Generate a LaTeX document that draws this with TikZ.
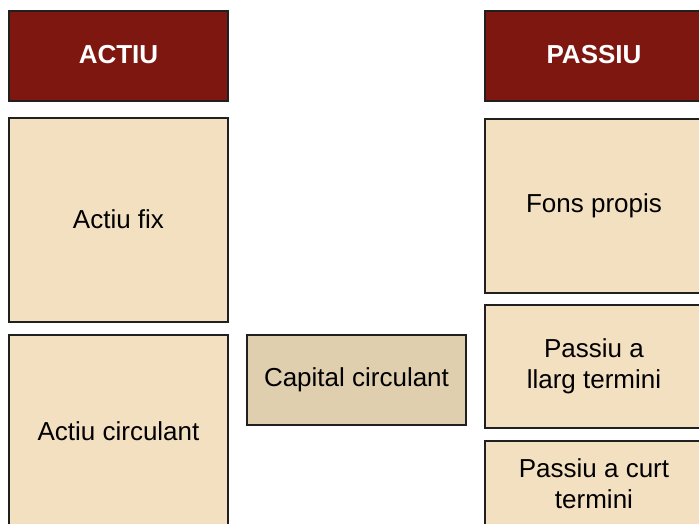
\documentclass[tikz,border=0pt]{standalone}
\usepackage{fontspec}
\setmainfont{Liberation Sans}
\definecolor{hdr}{HTML}{7F1711}
\definecolor{beige}{HTML}{F3E0C1}
\definecolor{beigedark}{HTML}{E0CFAE}
\definecolor{edge}{HTML}{202020}
\begin{document}
\begin{tikzpicture}[x=1pt,y=-1pt,
  box/.style={draw=edge,line width=2pt,inner sep=0pt,outer sep=0pt,align=center,
    font=\fontsize{26}{31}\selectfont},
  hdrbox/.style={box,fill=hdr,text=white,font=\fontsize{26}{31}\selectfont\bfseries},
  bbox/.style={box,fill=beige},
  cbox/.style={box,fill=beigedark}]
\useasboundingbox (0,0) rectangle (699,524);
\clip (0,0) rectangle (699,524);
\node[hdrbox,minimum width=219pt,minimum height=90pt] (actiu) at (118.5,56) {\raisebox{2.5pt}{ACTIU}};
\node[hdrbox,minimum width=218pt,minimum height=90pt] (passiu) at (594,56) {\raisebox{2.5pt}{PASSIU}};
\node[bbox,minimum width=219pt,minimum height=204pt] (fix) at (118.5,220) {\raisebox{1.5pt}{Actiu fix}};
\node[bbox,minimum width=219pt,minimum height=192pt] (circ) at (118.5,431) {Actiu circulant};
\node[cbox,minimum width=219pt,minimum height=90pt] (cap) at (356.5,380) {Capital circulant};
\node[bbox,minimum width=218pt,minimum height=174pt] (fons) at (594,206) {Fons propis};
\node[bbox,minimum width=218pt,minimum height=123pt] (llarg) at (594,366.5) {Passiu a\\llarg termini};
\node[bbox,minimum width=218pt,minimum height=86pt] (curt) at (594,484) {Passiu a curt\\termini};
\end{tikzpicture}
\end{document}
